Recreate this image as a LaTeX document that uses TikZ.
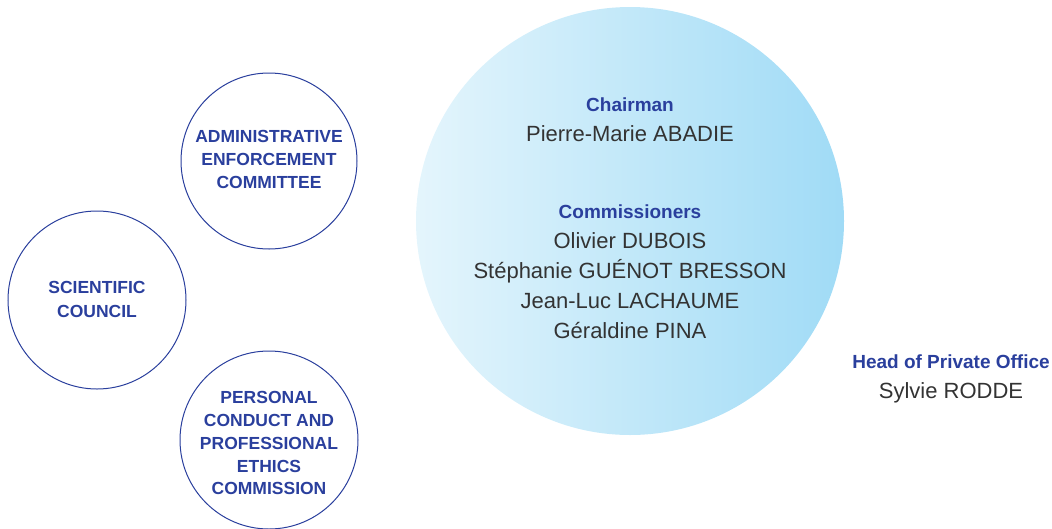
\documentclass[tikz,border=0pt]{standalone}
\usepackage{fontspec}
\setmainfont{Liberation Sans}
\definecolor{navy}{HTML}{2A3F9D}
\definecolor{ink}{HTML}{333333}
\definecolor{skyL}{HTML}{E4F5FC}
\definecolor{skyR}{HTML}{A0DBF6}
\tikzset{
  x=1pt, y=-1pt,
  ring/.style={circle, draw=navy, line width=1pt, minimum size=#1, inner sep=0pt},
  ringlbl/.style={anchor=base, inner sep=0pt, text=navy, font=\fontsize{17.5}{20}\selectfont\bfseries},
  ttl/.style={anchor=base, inner sep=0pt, text=navy, font=\fontsize{19}{22}\selectfont\bfseries},
  nm/.style={anchor=base, inner sep=0pt, text=ink, font=\fontsize{22}{25}\selectfont},
}
\begin{document}
\begin{tikzpicture}
\useasboundingbox (0,0) rectangle (1052,528);
% big shaded circle
\node[circle, minimum size=428pt, inner sep=0pt, left color=skyL, right color=skyR, draw=none] (board) at (630,221) {};
% small circles
\node[ring=176pt] (aec) at (269,161) {};
\node[ring=178pt] (sc) at (97,300) {};
\node[ring=178pt] (pce) at (269,440) {};
% admin enforcement committee
\node[ringlbl] (aec1) at (269,142.5) {ADMINISTRATIVE};
\node[ringlbl] (aec2) at (269,165.5) {ENFORCEMENT};
\node[ringlbl] (aec3) at (269,188.5) {COMMITTEE};
% scientific council
\node[ringlbl] (sc1) at (97,293) {SCIENTIFIC};
\node[ringlbl] (sc2) at (97,317) {COUNCIL};
% personal conduct
\node[ringlbl] (pce1) at (269,403) {PERSONAL};
\node[ringlbl] (pce2) at (269,426) {CONDUCT AND};
\node[ringlbl] (pce3) at (269,449) {PROFESSIONAL};
\node[ringlbl] (pce4) at (269,472) {ETHICS};
\node[ringlbl] (pce5) at (269,494.5) {COMMISSION};
% board text
\node[ttl] (chair) at (630,111) {Chairman};
\node[nm] (chairnm) at (630,141) {Pierre-Marie ABADIE};
\node[ttl] (comm) at (630,218) {Commissioners};
\node[nm] (c1) at (630,248) {Olivier DUBOIS};
\node[nm] (c2) at (630,278) {Stéphanie GUÉNOT BRESSON};
\node[nm] (c3) at (630,308) {Jean-Luc LACHAUME};
\node[nm] (c4) at (630,338) {Géraldine PINA};
% head of private office
\node[ttl] (hpo) at (951,368) {Head of Private Office};
\node[nm] (hponm) at (951,398) {Sylvie RODDE};
\end{tikzpicture}
\end{document}
